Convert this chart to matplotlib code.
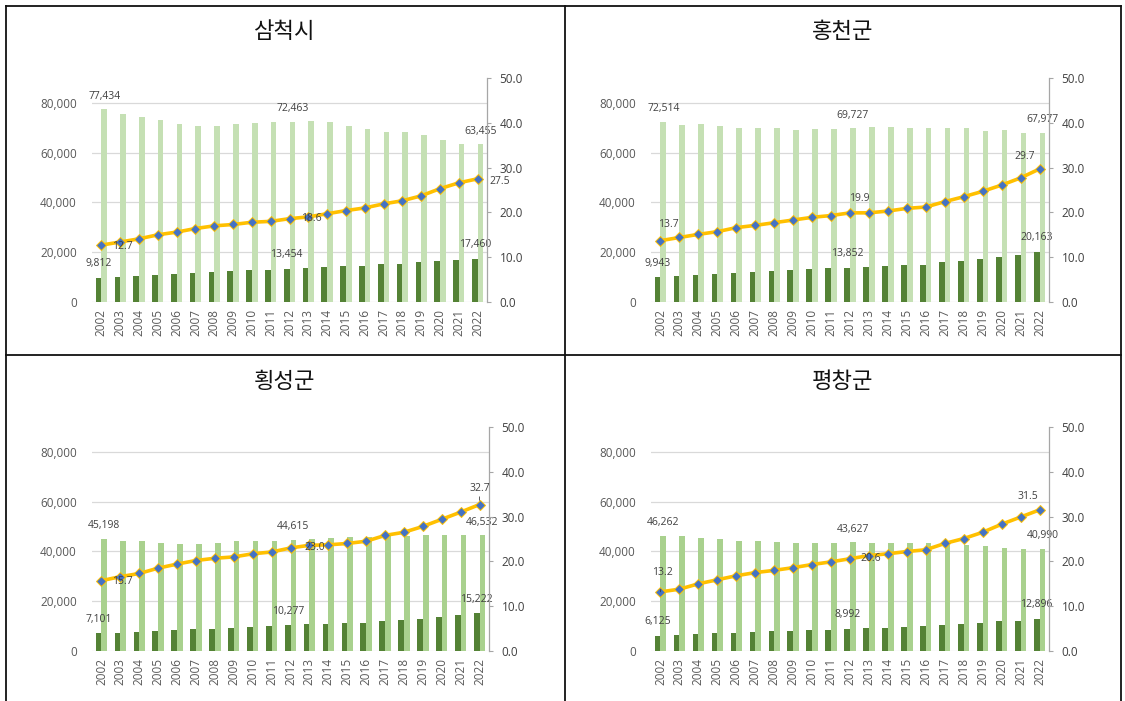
import numpy as np
import matplotlib
matplotlib.use("Agg")
import matplotlib.pyplot as plt
from matplotlib.lines import Line2D

plt.rcParams["font.family"] = ["Open Sans", "Noto Sans CJK KR", "DejaVu Sans"]

# -------- data --------

years = ["2002", "2003", "2004", "2005", "2006", "2007", "2008", "2009", "2010", "2011", "2012",
         "2013", "2014", "2015", "2016", "2017", "2018", "2019", "2020", "2021", "2022"]

titles = ["삼척시", "홍천군", "횡성군", "평창군"]

# total population (light bars)
samcheok_total = [77434, 75700, 74200, 73000, 71700, 70700, 70700, 71700, 71900, 72200, 72463,
                  72900, 72300, 70700, 69500, 68400, 68200, 67200, 65200, 63500, 63455]
hongcheon_total = [72514, 71200, 71700, 70600, 69800, 69800, 70100, 69300, 69500, 69500, 69727,
                   70300, 70300, 70100, 69800, 70100, 69800, 68900, 69100, 68100, 67977]
hoengseong_total = [45198, 44300, 44300, 43500, 43000, 43000, 43200, 44000, 44300, 44300, 44615,
                    44800, 45400, 45900, 45900, 46400, 46400, 46600, 46600, 46600, 46532]
pyeongchang_total = [46262, 46200, 45400, 45100, 44300, 44000, 43800, 43500, 43500, 43500, 43627,
                     43500, 43500, 43500, 43200, 43000, 42500, 42100, 41500, 41100, 40990]

# elderly population (dark bars)
samcheok_old = [9812, 10100, 10500, 10800, 11300, 11800, 12100, 12400, 12800, 13000, 13454,
                13700, 14000, 14300, 14500, 15100, 15300, 15900, 16500, 16800, 17460]
hongcheon_old = [9943, 10350, 10900, 11400, 11700, 12100, 12600, 12900, 13200, 13550, 13852,
                 14100, 14400, 14900, 14900, 15950, 16500, 17200, 18100, 19050, 20163]
hoengseong_old = [7101, 7380, 7650, 8190, 8460, 8720, 8860, 9130, 9660, 9930, 10277,
                  10740, 11000, 11280, 11400, 11950, 12500, 13000, 13700, 14500, 15222]
pyeongchang_old = [6125, 6310, 6850, 7110, 7380, 7650, 7900, 8190, 8460, 8600, 8992,
                   9400, 9400, 9660, 9930, 10470, 10740, 11280, 12080, 12220, 12896]

# elderly ratio, % (line, right axis)
samcheok_ratio = [12.7, 13.4, 14.1, 15.0, 15.6, 16.4, 17.0, 17.3, 17.8, 18.0, 18.6,
                  19.0, 19.7, 20.4, 21.0, 21.9, 22.6, 23.7, 25.3, 26.6, 27.5]
hongcheon_ratio = [13.7, 14.4, 15.1, 15.7, 16.6, 17.1, 17.7, 18.3, 18.9, 19.3, 19.9,
                   19.9, 20.3, 20.9, 21.2, 22.4, 23.5, 24.7, 26.1, 27.7, 29.7]
hoengseong_ratio = [15.7, 16.6, 17.3, 18.5, 19.4, 20.2, 20.7, 21.0, 21.7, 22.1, 23.0,
                    23.6, 23.7, 24.0, 24.5, 25.8, 26.5, 27.8, 29.4, 31.0, 32.7]
pyeongchang_ratio = [13.2, 13.8, 15.0, 15.9, 16.8, 17.5, 18.0, 18.6, 19.3, 19.9, 20.6,
                     21.3, 21.7, 22.2, 22.6, 24.0, 25.1, 26.5, 28.3, 29.9, 31.5]

left_ticks = [0, 20000, 40000, 60000, 80000]
right_ticks = [0, 10, 20, 30, 40, 50]
labeled_idx = [0, 10, 20]

# -------- style --------

W, H = 1125, 701
dark_color = "#548235"
light_colors = ["#C5E0B4", "#C5E0B4", "#A9D18E", "#A9D18E"]
line_color = "#FFC000"
marker_color = "#4472C4"
text_color = "#404040"
tick_color = "#595959"

# axes boxes in pixels: left, top, right, bottom
boxes = [(92, 78, 487, 302), (651, 78, 1049, 302),
         (92, 427, 489, 651), (651, 427, 1049, 651)]
title_pos = [(285, 31), (843, 31), (285, 381), (843, 381)]

# ratio label offsets in pixels (dx, dy up) for 2002 / 2012 / 2022
ratio_offsets = [
    [(21, -1), (22, 0), (22, -3)],
    [(8, 16), (9, 14), (-15, 12)],
    [(21, -1), (24, 0), (0, 16)],
    [(2, 19), (21, 0), (-12, 13)],
]
leader = [[False, False, False], [False, False, False],
          [False, False, True], [True, False, False]]

totals = [samcheok_total, hongcheon_total, hoengseong_total, pyeongchang_total]
olds = [samcheok_old, hongcheon_old, hoengseong_old, pyeongchang_old]
ratios = [samcheok_ratio, hongcheon_ratio, hoengseong_ratio, pyeongchang_ratio]

fig = plt.figure(figsize=(W / 100, H / 100), dpi=100)

x = np.arange(len(years))
bw = 0.3
PT = 0.72  # px -> points at dpi 100

for k in range(4):
    l, t, r, b = boxes[k]
    ax = fig.add_axes([l / W, 1 - b / H, (r - l) / W, (b - t) / H])
    ax2 = ax.twinx()

    ax.bar(x - bw / 2, olds[k], width=bw, color=dark_color, zorder=2)
    ax.bar(x + bw / 2, totals[k], width=bw, color=light_colors[k], zorder=2)
    ax.set_xlim(-0.5, len(years) - 0.5)
    ax.set_ylim(0, 90000)
    ax.set_yticks(left_ticks)
    ax.set_yticklabels([f"{v:,}" for v in left_ticks])
    ax.yaxis.grid(True, color="#D9D9D9", lw=0.9)
    ax.set_axisbelow(True)
    ax.set_xticks(x)
    ax.set_xticklabels(years, rotation=90)
    ax.tick_params(axis="x", length=0, pad=5, labelsize=8.5, labelcolor=tick_color)
    ax.tick_params(axis="y", length=0, pad=11, labelsize=8.5, labelcolor=tick_color)
    for s in ax.spines.values():
        s.set_visible(False)

    for i in labeled_idx:
        ax.annotate(f"{totals[k][i]:,}", (x[i] + bw / 2, totals[k][i]),
                    xytext=(0, 13 * PT), textcoords="offset points",
                    ha="center", va="center", fontsize=7.5, color=text_color)
        ax.annotate(f"{olds[k][i]:,}", (x[i] - bw / 2, olds[k][i]),
                    xytext=(0, 14 * PT), textcoords="offset points",
                    ha="center", va="center", fontsize=7.5, color=text_color)

    ax2.plot(x, ratios[k], color=line_color, lw=2.6, marker="D", ms=5,
             mfc=marker_color, mec=line_color, mew=0.7, zorder=3)
    ax2.set_ylim(0, 50)
    ax2.set_yticks(right_ticks)
    ax2.set_yticklabels([f"{v:.1f}" for v in right_ticks])
    ax2.tick_params(axis="y", length=3, color="#A6A6A6", pad=6, labelsize=8.5,
                    labelcolor=text_color)
    for name, s in ax2.spines.items():
        s.set_visible(name == "right")
    ax2.spines["right"].set_color("#A6A6A6")
    ax2.spines["right"].set_linewidth(0.9)

    for j, i in enumerate(labeled_idx):
        dx, dy = ratio_offsets[k][j]
        arrow = dict(arrowstyle="-", color=text_color, lw=0.6, shrinkA=6, shrinkB=3) if leader[k][j] else None
        ax2.annotate(f"{ratios[k][i]:.1f}", (x[i], ratios[k][i]),
                     xytext=(dx * PT, dy * PT), textcoords="offset points",
                     ha="center", va="center", fontsize=7.5, color=text_color,
                     arrowprops=arrow, zorder=4)

    tx, ty = title_pos[k]
    fig.text(tx / W, 1 - ty / H, titles[k], ha="center", va="center",
             fontsize=16, color="#111111", family=["Noto Sans CJK KR"])

# table borders
border = [((6, 6), (1121, 6)), ((6, 6), (6, 701)), ((1121, 6), (1121, 701)),
          ((565, 6), (565, 701)), ((6, 355), (1121, 355))]
for (x0, y0), (x1, y1) in border:
    fig.add_artist(Line2D([x0 / W, x1 / W], [1 - y0 / H, 1 - y1 / H],
                          transform=fig.transFigure, color="#111111", lw=1.3))

fig.savefig("out.png", dpi=100)
